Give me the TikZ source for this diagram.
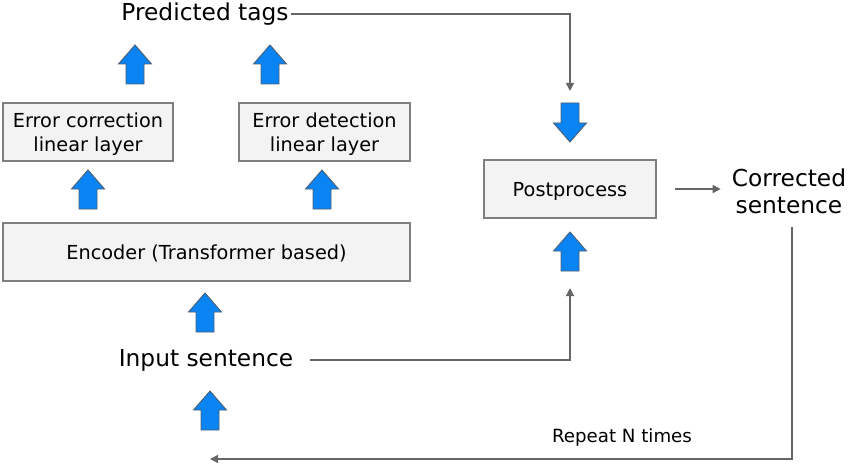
\documentclass[tikz,border=0pt]{standalone}
\usepackage{fontspec}
\setmainfont{DejaVu Sans}
\usepackage{xcolor}
\usepackage{tikz}
\usetikzlibrary{arrows.meta,positioning,calc}
\definecolor{LineGrey}{HTML}{666666}
\definecolor{BoxEdge}{HTML}{7F7F7F}
\definecolor{BoxFill}{HTML}{F3F3F3}
\definecolor{TagBlue}{HTML}{0A84F2}
\definecolor{TagEdge}{HTML}{4F5F70}

\begin{document}
\begin{tikzpicture}[x=1pt,y=-1pt]
  \path[use as bounding box] (0,0) rectangle (849,468);
  \tikzset{
    gecBox/.style={
      draw=BoxEdge, fill=BoxFill, line width=1.3pt,
      minimum height=58pt, inner sep=0pt, align=center,
      text depth=0pt, font=\fontsize{19.3}{24}\selectfont
    },
    gecLabel/.style={inner sep=2pt, align=center, font=\fontsize{23.3}{27}\selectfont},
    gecFlow/.style={
      -{Triangle[length=8pt,width=8pt]}, draw=LineGrey,
      line width=1.4pt
    },
    blkUp/.pic={
      \filldraw[fill=TagBlue, draw=TagEdge, line width=.9pt, line join=miter]
        (0,0) -- (16.5,19) -- (9,19) -- (9,39) -- (-9,39) -- (-9,19) -- (-16.5,19) -- cycle;
    }
  }

  \node[gecLabel] (tags) at (205,14) {Predicted tags};
  \node[gecBox,minimum width=170pt] (corrLayer) at (88,132) {Error correction\\linear layer};
  \node[gecBox,minimum width=171pt] (detLayer) at (324.5,132) {Error detection\\linear layer};
  \node[gecBox,minimum width=407pt] (encoder) at (206.5,252) {Encoder (Transformer based)};
  \node[gecLabel] (input) at (206,360) {Input sentence};
  \node[gecBox,minimum width=172pt] (post) at (570,189) {Postprocess};
  \node[gecLabel] (output) at (789,191) {Corrected\\sentence};
  \node[font=\fontsize{18.2}{22}\selectfont] (repeat) at (622,437) {Repeat N times};

  % block arrows between the stages
  \pic at (135,45) {blkUp};
  \pic at (270,45) {blkUp};
  \pic at (88,170) {blkUp};
  \pic at (322,170) {blkUp};
  \pic at (205,293) {blkUp};
  \pic at (210,391) {blkUp};
  \pic at (570,232) {blkUp};
  \pic[yscale=-1] at (570,142) {blkUp};

  \coordinate (tagsIn) at (570,91);
  \coordinate (inputIn) at (570,288);
  \coordinate (loopOut) at (792,227);
  \coordinate (loopIn) at (210,459);

  \draw[gecFlow] (tags.east) -| (tagsIn);
  \draw[gecFlow] ([xshift=15pt]input.east) -| (inputIn);
  \draw[gecFlow] ([xshift=18pt]post.east) -- ([xshift=-9pt]output.west |- post.east);
  \draw[gecFlow] (loopOut) |- (loopIn);
\end{tikzpicture}
\end{document}
